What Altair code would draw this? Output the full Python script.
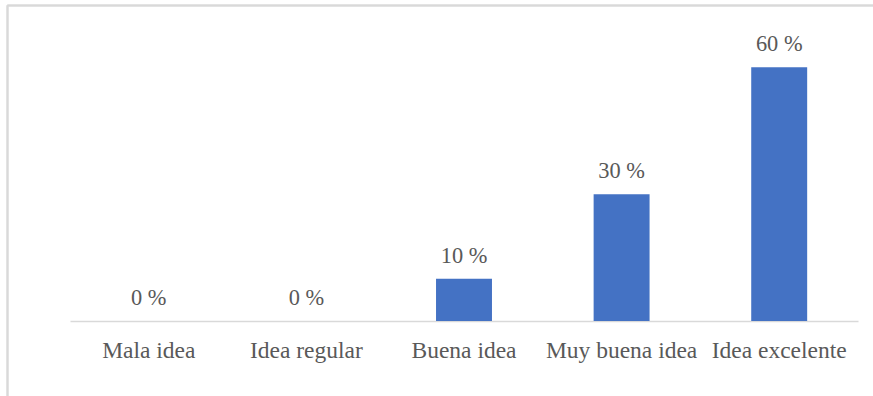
import altair as alt
import pandas as pd

categories = ["Mala idea", "Idea regular", "Buena idea", "Muy buena idea", "Idea excelente"]
values = [0, 0, 10, 30, 60]
labels = ["0 %", "0 %", "10 %", "30 %", "60 %"]

df = pd.DataFrame({"cat": categories, "val": values, "lab": labels})

FONT = "Liberation Serif"
TXT = "#595959"

x = alt.X("cat:N", sort=categories, title=None,
          scale=alt.Scale(paddingInner=0.645, paddingOuter=0.3225),
          axis=alt.Axis(labelAngle=0, labelFont=FONT, labelFontSize=23.5, labelColor=TXT,
                        ticks=False, tickSize=0, labelPadding=36, labelBaseline="alphabetic",
                        domainColor="#D9D9D9", domainWidth=1.5, grid=False))
y = alt.Y("val:Q", scale=alt.Scale(domain=[0, 70]), axis=None)

bars = alt.Chart(df).mark_bar(color="#4472C4").encode(x=x, y=y)
text = alt.Chart(df).mark_text(font=FONT, fontSize=22.4, color=TXT, baseline="alphabetic", dy=-16).encode(
    x=x, y=y, text="lab:N")

frame_top = alt.Chart(df).mark_rule(color="#D9D9D9", strokeWidth=1.5).encode(
    x=alt.value(-62.5), x2=alt.value(820), y=alt.value(-19.5))
frame_left = alt.Chart(df).mark_rule(color="#D9D9D9", strokeWidth=1.5).encode(
    x=alt.value(-62.5), y=alt.value(-19.5), y2=alt.value(380))

chart = alt.layer(frame_top, frame_left, bars, text).properties(
    width=788, height=296,
    padding={"left": 70, "top": 25, "right": 15, "bottom": 75},
    autosize=alt.AutoSizeParams(type="none"),
).configure_view(stroke=None)

chart.save("out.html", embed_options={"renderer": "svg", "actions": False})
